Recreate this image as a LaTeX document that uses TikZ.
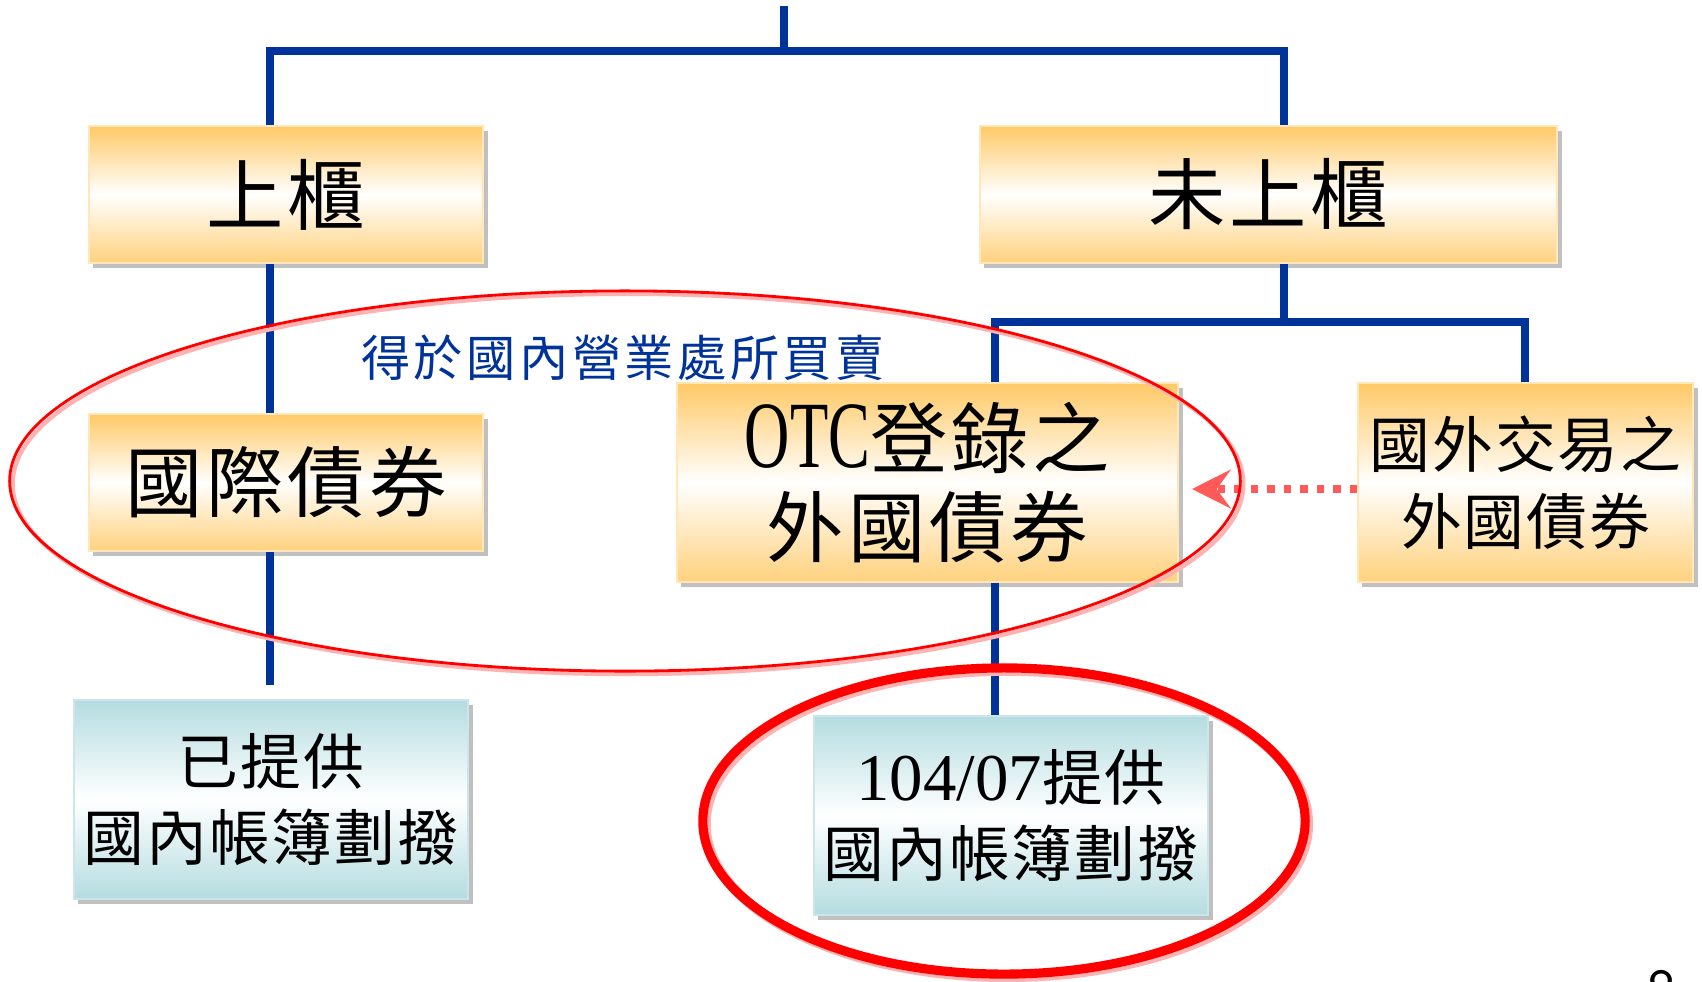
\documentclass[tikz,border=0pt]{standalone}
\usepackage{fontspec}
\setmainfont{Liberation Serif}
\newfontfamily\cjk{Noto Sans CJK TC}
\newfontfamily\latn{Liberation Serif}
\newfontfamily\latnc[FakeStretch=0.66]{Liberation Serif}
\usetikzlibrary{arrows.meta,shadows}

\definecolor{busblue}{HTML}{003399}
\definecolor{boxorange}{HTML}{FFC966}
\definecolor{boxteal}{HTML}{B4DCE0}
\definecolor{markred}{HTML}{FF0000}
\definecolor{hintred}{HTML}{FF5A5A}

\def\bigcjk{\fontsize{22}{25.3}\selectfont\cjk\addfontfeature{LetterSpace=5}}
\def\midcjk{\fontsize{17.3}{21.8}\selectfont\cjk\addfontfeature{LetterSpace=3}}

\tikzset{
    bus/.style={draw=busblue, line width=2.1pt},
    boxshade/.style={drop shadow={shadow xshift=1.3pt, shadow yshift=-1.3pt, fill=black!55, opacity=0.45}},
    gold/.style={rectangle, draw=boxorange!45, line width=0.4pt, boxshade,
        top color=boxorange, bottom color=boxorange!85, middle color=white,
        inner sep=0pt, align=center},
    teal/.style={rectangle, draw=boxteal!70, line width=0.4pt, boxshade,
        top color=boxteal, bottom color=boxteal, middle color=white,
        inner sep=0pt, align=center},
    hint/.style={draw=hintred, line width=2.1pt, dash pattern=on 2.1pt off 2.6pt,
        -{Stealth[length=11pt, width=11pt, inset=4pt, fill=hintred]}},
}

\begin{document}
\begin{tikzpicture}[x=0.01cm, y=-0.01cm]
    \clip (0,0) rectangle (1702,981);

    \def\lh{1.37cm}	 %height of one-line boxes
    \def\th{1.99cm}	 %height of two-line boxes

    %BOXES
    \node[gold, minimum width=3.94cm, minimum height=\lh, font=\bigcjk] (listed) at (286,194.5) {上櫃};
    \node[gold, minimum width=5.77cm, minimum height=\lh, font=\bigcjk] (unlisted) at (1268.5,194.5) {未上櫃};
    \node[gold, minimum width=3.94cm, minimum height=\lh, font=\bigcjk] (intl) at (286,482.5) {國際債券};
    \node[gold, minimum width=5.01cm, minimum height=\th, font=\bigcjk] (otc) at (927.5,482.5)
        {{\fontsize{27}{27}\selectfont\latnc OTC}登錄之\\外國債券};
    \node[gold, minimum width=3.35cm, minimum height=\th, font=\midcjk] (foreign) at (1525.5,482.5)
        {國外交易之\\外國債券};
    \node[teal, minimum width=3.94cm, minimum height=\th, font=\midcjk] (done) at (271,799.5)
        {已提供\\國內帳簿劃撥};
    \node[teal, minimum width=3.94cm, minimum height=\th, font=\midcjk] (new) at (1011,815.5)
        {{\fontsize{19}{19}\selectfont\latn 104/07}提供\\國內帳簿劃撥};

    %TREE
    \coordinate (root) at (784,6);	\coordinate (hub) at (784,51);
    \coordinate (xL) at (270,0);	\coordinate (xR) at (1284,0);
    \coordinate (xO) at (995,0);	\coordinate (xF) at (1525,0);
    \coordinate (hub2) at (1284,322);
    \draw[bus] (root) -- (hub);
    \draw[bus] (listed.north -| xL) |- (hub) -| (unlisted.north -| xR);
    \draw[bus] (listed.south -| xL) -- (intl.north -| xL);
    \draw[bus, shorten >=0.14cm] (intl.south -| xL) -- (done.north -| xL);
    \draw[bus] (unlisted.south -| xR) -- (hub2);
    \draw[bus] (otc.north -| xO) |- (hub2) -| (foreign.north -| xF);
    \draw[bus] (otc.south -| xO) -- (new.north -| xO);

    %dotted pointer
    \coordinate (tip) at (1192,489);
    \draw[hint] (foreign.west |- tip) -- (tip);

    %RINGS (shadow first)
    \draw[markred!30, line width=1.2pt] (628,484) ellipse [x radius=6.15cm, y radius=1.9cm];
    \draw[markred, line width=0.8pt] (625,481) ellipse [x radius=6.15cm, y radius=1.9cm];
    \draw[markred!30, line width=2.8pt] (1007,824) ellipse [x radius=3.01cm, y radius=1.53cm];
    \draw[markred, line width=2.6pt] (1004,821) ellipse [x radius=3.01cm, y radius=1.53cm];

    \node[font=\fontsize{14}{14}\selectfont\cjk\addfontfeature{LetterSpace=7}, text=busblue] (venue) at (623,358)
        {得於國內營業處所買賣};
    \node[font=\fontsize{17}{17}\selectfont\sffamily, anchor=north, inner sep=0pt] (page) at (1662,970) {8};
\end{tikzpicture}
\end{document}
